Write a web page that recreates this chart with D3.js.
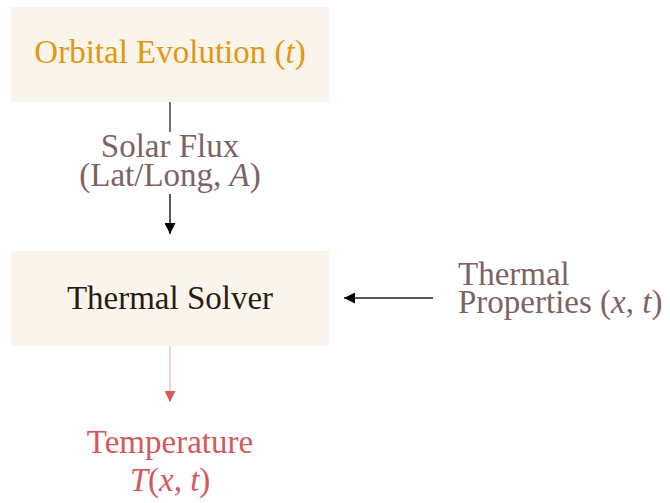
<!DOCTYPE html>
<html>
<head>
<meta charset="utf-8">
<script src="https://cdn.jsdelivr.net/npm/d3@7"></script>
<style>
  body { margin: 0; background: #fff; }
</style>
</head>
<body>
<svg id="flow" width="670" height="503"></svg>
<script>
"use strict";

const FONT = "Liberation Serif";
const FS = 33;

// nodes: label parts as [text, italic]
const boxNames = ["orbit", "solver"];
const boxLabels = [
  [["Orbital Evolution (", false], ["t", true], [")", false]],
  [["Thermal Solver", false]]
];
const boxColors = ["#e6960f", "#2a1c12"];

const freeNames = ["flux", "props", "temp"];
const freeLabels = [
  [[["Solar Flux", false]], [["(Lat/Long, ", false], ["A", true], [")", false]]],
  [[["Thermal", false]], [["Properties (", false], ["x", true], [", ", false], ["t", true], [")", false]]],
  [[["Temperature", false]], [["T", true], ["(", false], ["x", true], [", ", false], ["t", true], [")", false]]]
];
const freeColors = ["#7e6363", "#7e6363", "#d6585b"];

// layout grid (column/row positions in px)
const col = d3.scaleOrdinal().domain(["main", "side"]).range([170, 458]);
const row = d3.scaleOrdinal().domain(["r0", "r1", "r2", "r3"]).range([54.5, 157, 298.5, 453]);

const svg = d3.select("#flow");
const boxW = 318, boxH = 95;
const baseShift = [8, 10.5];

const boxes = boxNames.map((n, i) => ({name: n, parts: boxLabels[i], color: boxColors[i],
  x: col("main"), y: row(i === 0 ? "r0" : "r2"), shift: baseShift[i]}));

svg.append("defs").selectAll("marker")
  .data([["blk", "#000"], ["red", "#d6585b"]])
  .join("marker")
  .attr("id", d => "ah-" + d[0])
  .attr("viewBox", "0 0 10 10")
  .attr("refX", 10).attr("refY", 5)
  .attr("markerWidth", 11).attr("markerHeight", 11)
  .attr("markerUnits", "userSpaceOnUse")
  .attr("orient", "auto")
  .append("path")
  .attr("d", "M0,0L10,5L0,10Z")
  .attr("fill", d => d[1]);

svg.selectAll("rect.box")
  .data(boxes)
  .join("rect")
  .attr("class", "box")
  .attr("x", d => d.x - boxW / 2)
  .attr("y", d => d.y - boxH / 2)
  .attr("width", boxW)
  .attr("height", boxH)
  .attr("fill", "#faf5ec");

function addParts(t, parts) {
  t.attr("font-family", FONT).attr("font-size", FS);
  parts.forEach(p => {
    t.append("tspan").text(p[0])
      .attr("font-style", p[1] ? "italic" : "normal");
  });
}

svg.selectAll("text.box")
  .data(boxes)
  .join("text")
  .attr("class", "box")
  .attr("x", d => d.x)
  .attr("y", d => d.y + d.shift)
  .attr("text-anchor", "middle")
  .attr("fill", d => d.color)
  .each(function(d) { addParts(d3.select(this), d.parts); });

// edges
const x0 = col("main");
const edges = [
  {x1: x0, y1: 102, x2: x0, y2: 132, color: "#444", marker: null},
  {x1: x0, y1: 194, x2: x0, y2: 234, color: "#222", marker: "blk"},
  {x1: 433, y1: 298, x2: 344, y2: 298, color: "#222", marker: "blk"},
  {x1: x0, y1: 346, x2: x0, y2: 402, color: "#f0bcbc", marker: "red"}
];
svg.selectAll("line.edge")
  .data(edges)
  .join("line")
  .attr("class", "edge")
  .attr("x1", d => d.x1).attr("y1", d => d.y1)
  .attr("x2", d => d.x2).attr("y2", d => d.y2)
  .attr("stroke", d => d.color)
  .attr("stroke-width", 1.5)
  .attr("marker-end", d => d.marker ? `url(#ah-${d.marker})` : null);

// free labels
const free = [
  {lines: freeLabels[0], color: freeColors[0], x: x0, y: row("r1"), anchor: "middle", gap: 29},
  {lines: freeLabels[1], color: freeColors[1], x: col("side"), y: 285, anchor: "start", gap: 28},
  {lines: freeLabels[2], color: freeColors[2], x: x0, y: row("r3"), anchor: "middle", gap: 38}
];
free.forEach(f => {
  f.lines.forEach((ln, i) => {
    const t = svg.append("text")
      .attr("x", f.x)
      .attr("y", f.y + i * f.gap)
      .attr("text-anchor", f.anchor)
      .attr("fill", f.color);
    addParts(t, ln);
  });
});
</script>
</body>
</html>
